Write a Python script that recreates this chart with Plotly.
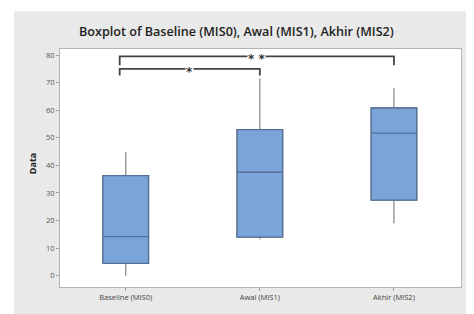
import plotly.graph_objects as go

# ---- data ----
categories = ["Baseline (MIS0)", "Awal (MIS1)", "Akhir (MIS2)"]
lower_whisker = [0.0, 13.2, 19.0]
q1_values = [4.5, 14.0, 27.4]
medians = [14.2, 37.5, 51.7]
q3_values = [36.3, 53.0, 60.8]
upper_whisker = [44.8, 71.5, 68.0]

y_ticks = [0, 10, 20, 30, 40, 50, 60, 70, 80]

# significance brackets: (start category index, end category index, height, tick drop, label)
bracket_start = [0, 0]
bracket_end = [2, 1]
bracket_height = [79.5, 75.0]
bracket_drop = [3.2, 2.4]
bracket_label = ["* *", "*"]

title_text = "Boxplot of Baseline (MIS0), Awal (MIS1), Akhir (MIS2)"
y_title = "Data"

# ---- styles ----
box_fill = "#7BA4D9"
box_line = "#536F98"
whisker_color = "#8C8C8C"
panel_gray = "#E9E9E9"
box_width = 0.34

fig = go.Figure()

# whiskers (gray)
fig.add_trace(go.Box(
    x=categories, q1=q1_values, median=medians, q3=q3_values,
    lowerfence=lower_whisker, upperfence=upper_whisker,
    width=box_width, fillcolor=box_fill,
    line=dict(color=whisker_color, width=1.3),
    whiskerwidth=0, boxpoints=False, hoverinfo="skip", showlegend=False,
))
# boxes (dark outline) drawn on top
fig.add_trace(go.Box(
    x=categories, q1=q1_values, median=medians, q3=q3_values,
    lowerfence=q1_values, upperfence=q3_values,
    width=box_width, fillcolor=box_fill,
    line=dict(color=box_line, width=1.3),
    whiskerwidth=0, boxpoints=False, showlegend=False,
))

shapes = []
annotations = []

# gray panel around plot area (evenodd hole)
px0, px1 = -0.1147, 1.06
py0, py1 = -0.12, 1.1585
hole = "M0,0 L1,0 L1,1 L0,1 Z"
shapes.append(dict(
    type="path", xref="paper", yref="paper",
    path=f"M{px0},{py0} L{px1},{py0} L{px1},{py1} L{px0},{py1} Z " + hole,
    fillcolor=panel_gray, line=dict(width=0), fillrule="evenodd", layer="below",
))

left_offset = -0.045
for s, e, h, d, lab in zip(bracket_start, bracket_end, bracket_height, bracket_drop, bracket_label):
    xs = s + left_offset
    xe = e
    shapes.append(dict(
        type="path", xref="x", yref="y",
        path=f"M{xs},{h - d} L{xs},{h} L{xe},{h} L{xe},{h - d}",
        line=dict(color="#444444", width=1.8),
    ))
    annotations.append(dict(
        x=(xs + xe) / 2, y=h, xref="x", yref="y", text=lab, showarrow=False,
        font=dict(family="DejaVu Sans", size=12, color="#333333", weight=700),
        bgcolor="white", borderpad=0, yshift=-3,
    ))

annotations.append(dict(
    x=0.439, y=1.072, xref="paper", yref="paper", text=title_text, showarrow=False,
    font=dict(family="Open Sans", size=12.6, color="#222222", weight=600),
    xanchor="center", yanchor="middle",
))
annotations.append(dict(
    x=-0.07, y=0.52, xref="paper", yref="paper", text=y_title, showarrow=False,
    textangle=-90, font=dict(family="Open Sans", size=9, color="#222222", weight=700),
    xanchor="center", yanchor="middle",
))

# page body has an 8px margin, so the figure is sized to fit the window
fig.update_layout(
    width=466, height=306,
    margin=dict(l=52, r=13, t=41, b=19),
    paper_bgcolor="white", plot_bgcolor="white",
    boxmode="overlay",
    shapes=shapes, annotations=annotations,
    font=dict(family="Open Sans", size=8, color="#555555"),
)
fig.update_xaxes(
    range=[-0.49, 2.5], showgrid=False, zeroline=False,
    showline=True, linecolor="#B4B4B4", linewidth=1, mirror=True,
    ticks="outside", ticklen=3, tickcolor="#A0A0A0",
    tickfont=dict(size=7.5, color="#444444"),
)
fig.update_yaxes(
    range=[-4.1, 82.2], tickvals=y_ticks, showgrid=False, zeroline=False,
    showline=True, linecolor="#B4B4B4", linewidth=1, mirror=True,
    ticks="outside", ticklen=3, tickcolor="#A0A0A0",
    tickfont=dict(size=7.5, color="#555555"),
)

fig.write_html("out.html")
